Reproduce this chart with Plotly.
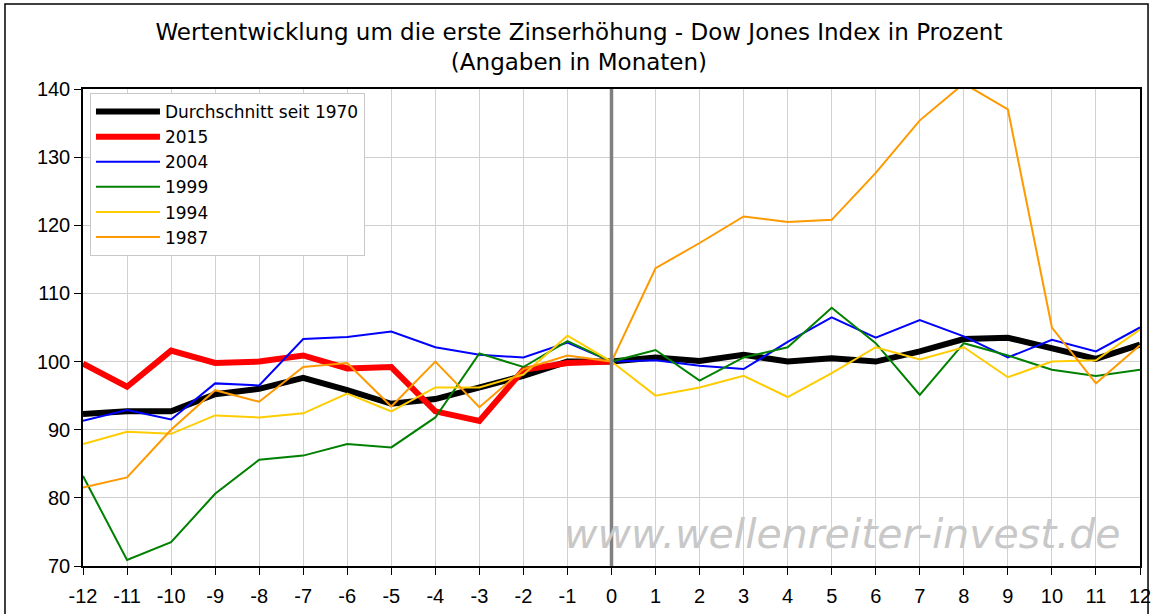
import plotly.graph_objects as go

# Monate relativ zur ersten Zinserhöhung
months = list(range(-12, 13))
month_labels = [str(m) for m in months]

avg_1970 = [92.3, 92.7, 92.7, 95.2, 96.0, 97.6, 95.8, 93.8, 94.5, 96.3, 97.9, 100.0, 100.0,
            100.6, 100.1, 101.0, 100.0, 100.5, 100.0, 101.5, 103.3, 103.5, 102.0, 100.4, 102.5]
y2015 = [99.7, 96.3, 101.6, 99.8, 100.0, 100.9, 99.0, 99.2, 92.7, 91.3, 98.8, 99.8, 100.0]
y2004 = [91.3, 92.9, 91.5, 96.8, 96.5, 103.3, 103.6, 104.4, 102.1, 101.0, 100.6, 102.8, 100.0,
         100.2, 99.4, 98.9, 102.9, 106.5, 103.5, 106.1, 103.7, 100.6, 103.2, 101.5, 105.0]
y1999 = [83.2, 70.9, 73.5, 80.6, 85.6, 86.2, 87.9, 87.4, 91.8, 101.2, 99.2, 103.0, 100.0,
         101.7, 97.2, 100.6, 102.1, 107.9, 102.7, 95.1, 102.7, 100.9, 98.8, 97.9, 98.8]
y1994 = [87.9, 89.7, 89.4, 92.1, 91.8, 92.4, 95.3, 92.7, 96.2, 96.2, 98.1, 103.8, 100.0,
         95.0, 96.2, 97.9, 94.8, 98.3, 102.1, 100.3, 102.1, 97.7, 100.0, 100.2, 104.7]
y1987 = [81.5, 83.0, 90.0, 95.8, 94.1, 99.2, 99.8, 93.4, 100.0, 93.3, 98.9, 100.9, 100.0,
         113.7, 117.4, 121.3, 120.5, 120.8, 127.7, 135.4, 140.8, 137.0, 105.0, 96.8, 102.4]

series = [
    ('Durchschnitt seit 1970', avg_1970, '#000000', 6),
    ('2015', y2015, '#FF0000', 6),
    ('2004', y2004, '#0000FF', 2),
    ('1999', y1999, '#008000', 2),
    ('1994', y1994, '#FFCC00', 2),
    ('1987', y1987, '#FF9900', 2),
]

ARIAL = 'Arial, Liberation Sans, sans-serif'
WIDE = 'DejaVu Sans, Arial, sans-serif'

fig = go.Figure()

for name, values, color, width in series:
    fig.add_trace(go.Scatter(
        x=months[:len(values)],
        y=values,
        name=name,
        mode='lines',
        line=dict(color=color, width=width),
    ))

# senkrechte Linie beim Zeitpunkt der Zinserhöhung
fig.add_shape(type='line', xref='x', yref='paper', x0=0, x1=0, y0=0, y1=1,
              line=dict(color='#808080', width=3.5), layer='above')

# Rahmen um das ganze Bild
fig.add_shape(type='rect', xref='paper', yref='paper',
              x0=-0.0738, x1=1.0076, y0=-0.12, y1=1.178,
              line=dict(color='#000000', width=1.5))

fig.add_annotation(
    text='www.wellenreiter-invest.de',
    xref='paper', yref='paper', x=0.7185, y=0.067,
    xanchor='center', yanchor='middle',
    showarrow=False,
    font=dict(family=WIDE, size=41, color='#c8c8c8', style='italic'),
)

fig.update_layout(
    width=1151,
    height=614,
    title=dict(
        text='Wertentwicklung um die erste Zinserhöhung - Dow Jones Index in Prozent<br>(Angaben in Monaten)',
        x=0.503, xanchor='center', xref='container',
        y=0.935, yanchor='middle', yref='container',
        font=dict(family=WIDE, size=23, color='#000000'),
    ),
    font=dict(family=ARIAL, size=20, color='#000000'),
    paper_bgcolor='white',
    plot_bgcolor='white',
    margin=dict(l=83, r=11, t=89, b=48),
    showlegend=True,
    legend=dict(
        x=0.0066, y=0.9916, xanchor='left', yanchor='top',
        bgcolor='white', bordercolor='#c8c8c8', borderwidth=1,
        font=dict(family=WIDE, size=17),
        traceorder='normal',
        itemwidth=64,
    ),
    xaxis=dict(
        range=[-12, 12],
        tickmode='array', tickvals=months, ticktext=month_labels,
        showgrid=True, gridcolor='#d0d0d0', gridwidth=1,
        showline=True, linecolor='#000000', linewidth=1.5, mirror=True,
        ticks='outside', ticklen=7, tickcolor='#000000',
        ticklabelstandoff=4,
        ticklabeloverflow='allow',
        zeroline=False,
        automargin=False,
        tickfont=dict(size=20),
    ),
    yaxis=dict(
        range=[70, 140],
        tickmode='linear', tick0=70, dtick=10,
        showgrid=True, gridcolor='#d0d0d0', gridwidth=1,
        showline=True, linecolor='#000000', linewidth=1.5, mirror=True,
        ticks='outside', ticklen=7, tickcolor='#000000',
        zeroline=False,
        automargin=False,
        tickfont=dict(size=20),
    ),
)

# Seitenrand des Browsers entfernen, damit das Bild bei (0, 0) beginnt
fig.write_html('out.html', config={'displayModeBar': False},
               post_script="document.body.style.margin='0';")
